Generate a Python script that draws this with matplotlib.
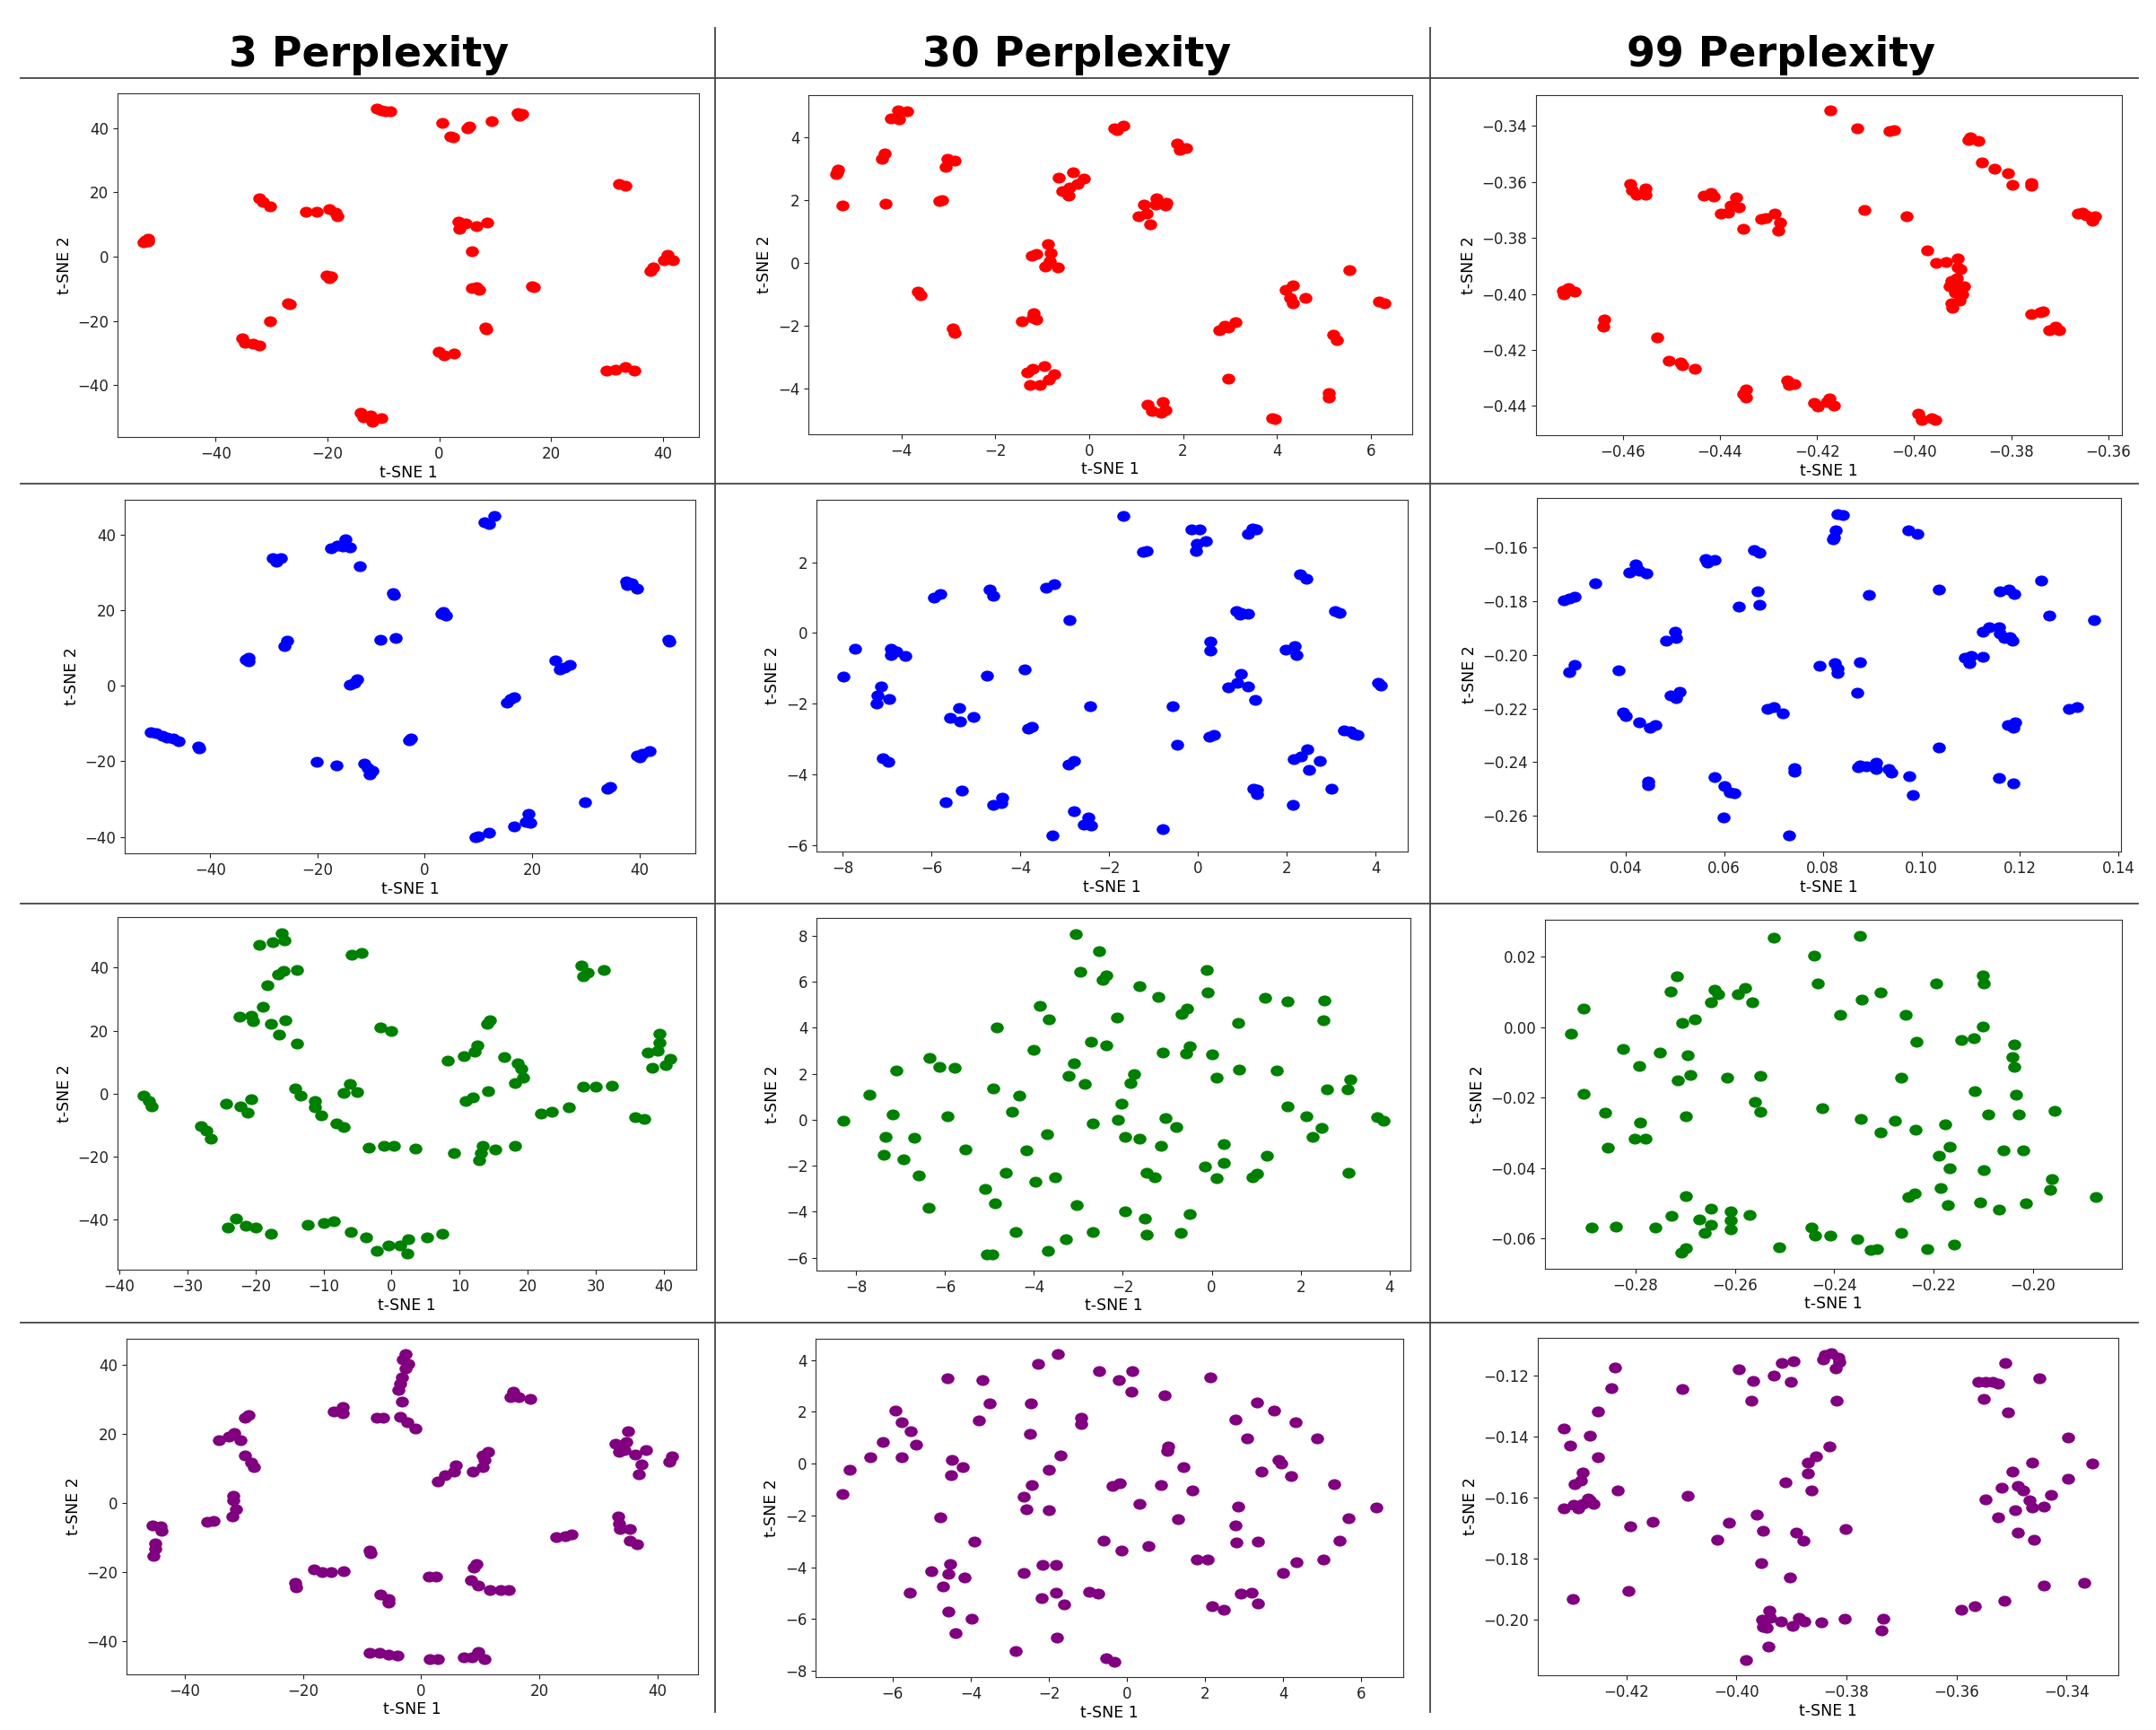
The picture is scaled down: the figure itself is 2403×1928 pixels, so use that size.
import numpy as np
import matplotlib
matplotlib.use("Agg")
import matplotlib.pyplot as plt
from matplotlib.lines import Line2D
from matplotlib.path import Path
from matplotlib.transforms import Affine2D
from matplotlib.ticker import MultipleLocator


# column headers and point colours (one colour per row)
perplexities = ["3 Perplexity", "30 Perplexity", "99 Perplexity"]
row_colors = ["red", "blue", "green", "purple"]

# ---- row 1 (red) ----
red_p3_x = [-52.8, -52.5, -52.1, -52.0, -35.3, -34.8, -33.3, -32.1, -30.3, -27.1, -26.8,
            -32.2, -31.5, -30.3, -23.8, -21.9, -19.7, -18.5, -18.3, -20.1, -19.7, -19.3,
            -11.2, -10.4, -8.8, -9.6, -14.1, -13.5, -12.3, -11.9, -10.4, 0.6, 2.0, 2.4, 5.0,
            5.3, 9.4, 14.0, 14.8, 14.4, 3.4, 4.7, 6.7, 8.6, 3.6, 5.9, 5.9, 6.7, 7.1, 16.6,
            16.9, 8.2, 8.4, -0.1, 0.9, 2.6, 32.2, 33.2, 29.9, 31.5, 33.2, 34.8, 37.7, 38.3,
            40.2, 40.8, 41.7]
red_p3_y = [4.5, 5.0, 5.5, 4.8, -25.3, -26.9, -27.0, -27.7, -20.1, -14.5, -14.8,
            18.1, 17.0, 15.6, 13.9, 13.9, 14.7, 13.7, 12.6, -5.9, -6.8, -6.2,
            45.9, 45.5, 45.3, 45.2, -48.4, -49.8, -49.5, -51.2, -50.2, 41.5, 37.5, 37.1, 39.9,
            40.3, 42.2, 44.5, 44.4, 43.8, 10.9, 10.2, 9.5, 10.5, 8.6, 1.6, -9.8, -9.4, -10.3, -9.1,
            -9.6, -21.9, -22.5, -29.7, -30.6, -30.2, 22.6, 22.1, -35.3, -35.0, -34.4, -35.5, -4.5, -3.3,
            -1.2, 0.5, -1.2]

red_p30_x = [-5.38, -5.35, -5.40, -5.26, -4.41, -4.36, -4.34, -4.23, -4.08, -4.05, -3.89,
             -3.05, -3.03, -2.87, -3.19, -3.13, -3.65, -3.59, -2.91, -2.87, -1.44, -1.19, -1.12, -1.21,
             -1.23, -1.13, -0.88, -0.82, -0.84, -0.93, -0.67, -1.32, -1.21, -0.95, -0.75, -0.86, -1.27, -1.06,
             -0.65, -0.35, -0.12, -0.24, -0.42, -0.58, -0.44, 0.53, 0.59, 0.73, 1.88, 1.94, 2.06,
             1.05, 1.22, 1.17, 1.44, 1.42, 1.65, 1.62, 1.30, 1.25, 1.33, 1.56, 1.62, 1.54,
             2.77, 2.89, 2.97, 3.12, 2.97, 3.91, 3.95, 4.18, 4.35, 4.28, 4.35, 4.60, 5.54,
             5.20, 5.27, 5.11, 5.11, 6.17, 6.30]
red_p30_y = [2.90, 2.97, 2.84, 1.83, 3.31, 3.48, 1.89, 4.60, 4.86, 4.57, 4.83,
             3.05, 3.31, 3.26, 1.98, 2.00, -0.90, -1.03, -2.10, -2.22, -1.86, -1.60, -1.81, -1.73,
             0.24, 0.30, 0.59, 0.31, 0.05, -0.11, -0.14, -3.50, -3.38, -3.29, -3.54, -3.71, -3.89, -3.89,
             2.73, 2.89, 2.70, 2.52, 2.40, 2.29, 2.14, 4.30, 4.24, 4.38, 3.81, 3.60, 3.67,
             1.50, 1.57, 1.86, 2.07, 1.86, 1.92, 1.83, 1.22, -4.52, -4.71, -4.43, -4.69, -4.78,
             -2.14, -2.00, -2.05, -1.89, -3.69, -4.95, -4.97, -0.86, -0.70, -1.10, -1.29, -1.11, -0.24,
             -2.30, -2.46, -4.14, -4.29, -1.22, -1.29]

red_p99_x = [-0.4724, -0.4722, -0.4713, -0.4699, -0.4638, -0.4640, -0.4585, -0.4581, -0.4571,
             -0.4553, -0.4553, -0.4530, -0.4506, -0.4482, -0.4477, -0.4452, -0.4434, -0.4419,
             -0.4413, -0.4399, -0.4384, -0.4377, -0.4366, -0.4361, -0.4352, -0.4315, -0.4306,
             -0.4288, -0.4276, -0.4279, -0.4352, -0.4346, -0.4347, -0.4261, -0.4258, -0.4247,
             -0.4206, -0.4199, -0.4181, -0.4174, -0.4165, -0.4172, -0.4117, -0.4050, -0.4041,
             -0.4103, -0.4016, -0.3974, -0.3954, -0.3934, -0.3911, -0.3911, -0.3904, -0.3924,
             -0.3913, -0.3927, -0.3909, -0.3898, -0.3916, -0.3902, -0.3907, -0.3924, -0.3921,
             -0.3991, -0.3984, -0.3963, -0.3956, -0.3888, -0.3884, -0.3867, -0.3860, -0.3835,
             -0.3806, -0.3797, -0.3758, -0.3758, -0.3758, -0.3740, -0.3735, -0.3721, -0.3709,
             -0.3701, -0.3662, -0.3653, -0.3646, -0.3634, -0.3627]
red_p99_y = [-0.3989, -0.4000, -0.3979, -0.3991, -0.4091, -0.4118, -0.3607, -0.3631, -0.3647,
             -0.3623, -0.3647, -0.4155, -0.4237, -0.4244, -0.4256, -0.4267, -0.3650, -0.3639,
             -0.3654, -0.3712, -0.3709, -0.3685, -0.3656, -0.3692, -0.3767, -0.3733, -0.3731,
             -0.3714, -0.3744, -0.3774, -0.4358, -0.4342, -0.4369, -0.4308, -0.4326, -0.4323,
             -0.4390, -0.4401, -0.4385, -0.4374, -0.4397, -0.3346, -0.3409, -0.3420, -0.3416,
             -0.3701, -0.3724, -0.3846, -0.3889, -0.3886, -0.3874, -0.3904, -0.3912, -0.3955,
             -0.3944, -0.3973, -0.3979, -0.3973, -0.3995, -0.4000, -0.4025, -0.4034, -0.4048,
             -0.4427, -0.4449, -0.4443, -0.4449, -0.3450, -0.3442, -0.3455, -0.3530, -0.3553,
             -0.3569, -0.3610, -0.3605, -0.3615, -0.4073, -0.4066, -0.4062, -0.4130, -0.4118,
             -0.4128, -0.3712, -0.3709, -0.3719, -0.3740, -0.3724]

# ---- row 2 (blue) ----
blue_p3_x = [-51.1, -50.1, -48.9, -48.1, -46.9, -45.9, -42.2, -42.1, -33.4, -32.8, -32.8,
             -26.1, -25.7, -28.4, -27.7, -26.8, -17.5, -16.3, -14.8, -14.0, -15.3, -12.1,
             -6.0, -5.8, -8.2, -5.4, -13.9, -13.1, -12.7, -20.1, -16.5, -11.3, -10.6, -9.7, -10.2,
             -2.9, -2.6, 3.1, 3.9, 3.5, 11.1, 11.9, 13.0, 9.5, 9.9, 11.9, 15.3, 16.0, 16.6,
             16.6, 18.8, 19.4, 19.6, 24.4, 25.1, 26.0, 27.1, 29.9, 34.1, 34.5, 37.5, 38.5, 39.6, 37.7,
             39.5, 40.5, 41.9, 40.1, 45.4, 45.6]
blue_p3_y = [-12.2, -12.5, -13.3, -13.7, -14.0, -14.7, -16.1, -16.6, 7.0, 7.4, 6.5,
             10.4, 11.8, 33.8, 32.8, 33.8, 36.4, 37.0, 38.6, 36.5, 36.8, 31.7,
             24.4, 24.0, 12.1, 12.7, 0.2, 0.7, 1.7, -20.2, -21.0, -20.6, -21.8, -22.6, -23.5,
             -14.5, -13.9, 19.1, 18.6, 19.6, 43.1, 42.8, 44.9, -40.1, -39.8, -38.9, -4.6, -3.6, -3.0,
             -37.2, -36.0, -34.0, -36.4, 6.6, 4.3, 4.7, 5.4, -30.8, -27.3, -26.9, 27.5, 27.1, 25.6, 26.5,
             -18.5, -18.0, -17.2, -18.9, 12.2, 11.6]

blue_p30_x = [-7.99, -7.72, -7.23, -7.13, -7.25, -6.96, -6.92, -6.79, -6.92, -6.59, -7.09, -6.97,
              -5.95, -5.80, -5.58, -5.38, -5.36, -5.06, -5.69, -5.33, -4.75, -4.69, -4.62,
              -4.62, -4.43, -4.42, -3.90, -3.82, -3.74, -3.43, -3.24, -3.28, -2.89, -2.91, -2.80,
              -2.80, -2.58, -2.48, -2.40, -2.43, -1.68, -1.24, -1.16, -0.80, -0.58, -0.46,
              -0.15, 0.04, -0.02, -0.04, 0.18, 0.27, 0.27, 0.25, 0.35, 0.86, 0.94, 0.97, 1.13,
              0.68, 0.88, 0.96, 1.12, 1.28, 1.13, 1.23, 1.30, 1.25, 1.33, 1.32, 1.98, 2.17, 2.22,
              2.15, 2.32, 2.47, 2.51, 2.74, 2.14, 2.30, 2.45, 3.08, 3.18, 3.00, 3.29, 3.44, 3.52, 3.59,
              4.05, 4.12]
blue_p30_y = [-1.22, -0.45, -1.76, -1.52, -1.98, -1.87, -0.44, -0.51, -0.63, -0.66, -3.54, -3.63,
              1.01, 1.10, -2.39, -2.11, -2.49, -2.36, -4.77, -4.46, -1.20, 1.24, 1.05,
              -4.85, -4.81, -4.64, -1.04, -2.70, -2.66, 1.29, 1.37, -5.72, 0.36, -3.71, -3.61,
              -5.02, -5.40, -5.21, -5.43, -2.07, 3.31, 2.30, 2.32, -5.55, -2.06, -3.16,
              2.93, 2.93, 2.53, 2.32, 2.59, -0.24, -0.49, -2.94, -2.87, 0.61, 0.51, 0.57, 0.55,
              -1.54, -1.42, -1.16, -1.52, -1.88, 2.80, 2.95, 2.93, -4.39, -4.54, -4.43, -0.48, -0.38, -0.61,
              -3.57, -3.49, -3.29, -3.86, -3.61, -4.85, 1.66, 1.54, 0.63, 0.57, -4.41, -2.74, -2.77, -2.85, -2.89,
              -1.42, -1.48]

blue_p99_x = [0.0274, 0.0286, 0.0296, 0.0339, 0.0407, 0.0420, 0.0422, 0.0427, 0.0443, 0.0285,
              0.0296, 0.0386, 0.0395, 0.0401, 0.0427, 0.0449, 0.0461, 0.0445, 0.0445, 0.0483,
              0.0500, 0.0503, 0.0492, 0.0503, 0.0509, 0.0562, 0.0566, 0.0580, 0.0580, 0.0600,
              0.0611, 0.0620, 0.0598, 0.0629, 0.0661, 0.0672, 0.0668, 0.0672, 0.0688, 0.0701,
              0.0719, 0.0742, 0.0743, 0.0731, 0.0793, 0.0824, 0.0830, 0.0830, 0.0821, 0.0822,
              0.0827, 0.0829, 0.0840, 0.0875, 0.0870, 0.0872, 0.0876, 0.0888, 0.0908, 0.0908,
              0.0933, 0.0939, 0.0893, 0.0974, 0.0992, 0.0975, 0.0983, 0.1036, 0.1036, 0.1088,
              0.1101, 0.1097, 0.1124, 0.1124, 0.1137, 0.1157, 0.1160, 0.1169, 0.1180, 0.1185,
              0.1160, 0.1178, 0.1189, 0.1158, 0.1176, 0.1187, 0.1191, 0.1187, 0.1242, 0.1260,
              0.1299, 0.1315, 0.1351]
blue_p99_y = [-0.1798, -0.1789, -0.1784, -0.1733, -0.1692, -0.1662, -0.1678, -0.1687, -0.1698, -0.2064,
              -0.2039, -0.2059, -0.2214, -0.2228, -0.2253, -0.2273, -0.2262, -0.2473, -0.2487, -0.1948,
              -0.1914, -0.1939, -0.2153, -0.2162, -0.2139, -0.1642, -0.1657, -0.1648, -0.2456, -0.2490,
              -0.2511, -0.2517, -0.2606, -0.1820, -0.1611, -0.1620, -0.1764, -0.1814, -0.2200, -0.2196,
              -0.2218, -0.2422, -0.2437, -0.2673, -0.2040, -0.2031, -0.2051, -0.2067, -0.1570, -0.1562,
              -0.1537, -0.1476, -0.1481, -0.2029, -0.2140, -0.2420, -0.2411, -0.2414, -0.2403, -0.2426,
              -0.2426, -0.2440, -0.1776, -0.1537, -0.1551, -0.2451, -0.2522, -0.1757, -0.2344, -0.2011,
              -0.2003, -0.2031, -0.2007, -0.1914, -0.1898, -0.1896, -0.1920, -0.1937, -0.1933, -0.1948,
              -0.1764, -0.1756, -0.1773, -0.2459, -0.2262, -0.2270, -0.2251, -0.2478, -0.1722, -0.1853,
              -0.2203, -0.2196, -0.1872]

# ---- row 3 (green) ----
green_p3_x = [-36.4, -35.7, -35.2, -28.0, -27.2, -26.5, -24.3, -22.2, -21.1, -20.6,
              -22.3, -20.6, -20.3, -17.7, -15.6, -16.5, -13.9, -18.9, -18.2, -16.7, -15.9, -13.9,
              -19.4, -17.4, -16.2, -15.7, -5.8, -4.4, -14.2, -13.4, -11.3, -11.3, -10.4, -8.1, -7.1,
              -7.1, -6.1, -5.1, -1.7, -0.1, -3.4, -1.1, 0.4, 3.5, 9.2, 8.3, 10.6, 12.2, 12.6,
              14.1, 14.4, 10.9, 12.0, 14.2, 16.6, 18.5, 19.1, 19.3, 18.1, 13.4, 13.1, 12.9, 15.2, 18.1,
              21.9, 23.6, 26.0, 27.9, 28.1, 28.8, 31.2, 28.2, 30.0, 32.4, 35.8, 37.1,
              37.7, 39.1, 39.4, 39.4, 38.3, 40.3, 40.9,
              -24.0, -22.8, -21.4, -20.0, -17.7, -12.3, -10.0, -8.5, -6.0, -3.7, -2.2, -0.4, 1.2,
              2.4, 2.3, 5.2, 7.4]
green_p3_y = [-0.6, -2.5, -4.2, -10.5, -11.7, -14.3, -3.2, -4.1, -6.2, -1.7,
              24.5, 24.8, 22.9, 22.2, 23.4, 18.8, 16.0, 27.7, 34.3, 37.8, 38.9, 39.2,
              47.3, 48.2, 51.0, 48.7, 44.2, 44.6, 1.5, -0.6, -2.5, -4.4, -6.9, -9.6, -10.7,
              0.2, 3.0, 0.6, 20.9, 20.0, -17.2, -16.7, -16.7, -17.6, -18.8, 10.6, 11.9, 13.2, 15.2,
              22.2, 23.4, -2.5, -1.3, 0.7, 11.6, 9.6, 7.8, 4.9, 3.4, -16.7, -18.8, -21.2, -17.8, -16.7,
              -6.4, -5.8, -4.4, 40.8, 37.3, 38.5, 39.4, 2.1, 2.1, 2.5, -7.5, -8.1,
              13.0, 13.6, 16.3, 19.1, 8.1, 9.1, 11.0,
              -42.7, -39.7, -42.0, -42.7, -44.6, -41.8, -41.3, -40.6, -43.9, -45.7, -50.1, -48.2, -48.2,
              -46.3, -50.9, -45.7, -44.6]

green_p30_x = [-8.28, -7.70, -7.18, -7.10, -7.34, -7.37, -6.93, -6.69, -6.58, -6.35,
               -6.13, -5.78, -6.36, -5.94, -5.53, -5.10, -5.05, -4.93, -4.88, -4.92,
               -4.83, -4.64, -4.49, -4.40, -4.32, -4.16, -3.96, -4.00, -3.86, -3.70,
               -3.67, -3.53, -3.69, -3.27, -3.22, -3.10, -3.06, -3.03, -2.95, -2.86,
               -2.71, -2.68, -2.67, -2.54, -2.46, -2.38, -2.38, -2.12, -2.11, -2.02,
               -1.94, -1.94, -1.82, -1.75, -1.62, -1.62, -1.50, -1.46, -1.46, -1.29,
               -1.21, -1.14, -1.11, -1.05, -0.79, -0.70, -0.68, -0.55, -0.57, -0.49,
               -0.49, -0.15, -0.11, -0.09, 0.00, 0.10, 0.11, 0.27, 0.27, 0.59,
               0.61, 0.92, 1.02, 1.19, 1.24, 1.47, 1.70, 1.70, 2.13, 2.27,
               2.48, 2.51, 2.53, 2.59, 3.05, 3.11, 3.08, 3.72, 3.86]
green_p30_y = [-0.05, 1.10, 0.25, 2.14, -0.75, -1.53, -1.70, -0.79, -2.42, 2.69,
               2.30, 2.26, -3.81, 0.16, -1.29, -2.99, -5.86, -5.86, -3.65, 1.36,
               4.01, -2.32, 0.35, -4.86, 1.06, -1.34, -2.70, 3.06, 4.96, -0.62,
               4.35, -2.49, -5.69, -5.19, 1.90, 2.44, 8.08, -3.70, 6.42, 1.56,
               3.40, -4.86, -0.17, 7.32, 6.10, 6.29, 3.22, 4.43, -0.01, 0.70,
               -0.75, -3.97, 1.58, 1.97, 5.81, -0.83, -4.29, -2.31, -4.99, -2.51,
               5.34, -1.12, 2.92, 0.06, -0.30, -4.90, 4.60, 4.83, 2.88, 3.18,
               -4.10, -2.03, 6.51, 5.53, 2.84, -2.55, 1.82, -1.05, -1.87, 4.22,
               2.18, -2.51, -2.35, 5.30, -1.58, 2.14, 5.13, 0.57, 0.16, -0.75,
               -0.34, 4.34, 5.17, 1.32, 1.32, 1.74, -2.29, 0.12, -0.05]

green_p99_x = [-0.2929, -0.2905, -0.2905, -0.2888, -0.2860, -0.2856, -0.2839, -0.2825, -0.2802, -0.2792,
               -0.2790, -0.2779, -0.2759, -0.2750, -0.2729, -0.2727, -0.2717, -0.2715, -0.2706, -0.2707,
               -0.2699, -0.2699, -0.2699, -0.2694, -0.2689, -0.2680, -0.2671, -0.2661, -0.2648, -0.2648,
               -0.2648, -0.2640, -0.2634, -0.2616, -0.2609, -0.2609, -0.2609, -0.2593, -0.2579, -0.2570,
               -0.2564, -0.2560, -0.2548, -0.2548, -0.2521, -0.2510, -0.2445, -0.2440, -0.2438, -0.2433,
               -0.2424, -0.2408, -0.2388, -0.2354, -0.2349, -0.2346, -0.2345, -0.2326, -0.2314, -0.2307,
               -0.2307, -0.2277, -0.2265, -0.2265, -0.2256, -0.2251, -0.2239, -0.2236, -0.2234, -0.2212,
               -0.2194, -0.2190, -0.2185, -0.2177, -0.2171, -0.2167, -0.2167, -0.2159, -0.2144, -0.2119,
               -0.2117, -0.2107, -0.2101, -0.2099, -0.2101, -0.2099, -0.2091, -0.2069, -0.2059, -0.2042,
               -0.2037, -0.2037, -0.2035, -0.2028, -0.2019, -0.2014, -0.1966, -0.1962, -0.1957, -0.1874]
green_p99_y = [-0.0019, 0.0052, -0.0188, -0.0568, -0.0243, -0.0341, -0.0566, -0.0061, -0.0316, -0.0109,
               -0.0270, -0.0316, -0.0568, -0.0072, 0.0102, -0.0536, 0.0145, -0.0150, 0.0011, -0.0641,
               -0.0627, -0.0252, -0.0479, -0.0080, -0.0135, 0.0022, -0.0545, -0.0585, 0.0070, -0.0515,
               -0.0560, 0.0107, 0.0094, -0.0144, -0.0523, -0.0549, -0.0574, 0.0094, 0.0111, -0.0534,
               0.0070, -0.0211, -0.0239, -0.0139, 0.0255, -0.0624, -0.0568, 0.0204, -0.0591, 0.0124,
               -0.0231, -0.0591, 0.0036, -0.0602, 0.0260, -0.0260, 0.0078, -0.0632, -0.0629, -0.0300,
               0.0098, -0.0265, -0.0144, -0.0585, 0.0036, -0.0481, -0.0471, -0.0290, -0.0042, -0.0629,
               0.0125, -0.0366, -0.0457, -0.0276, -0.0506, -0.0339, -0.0401, -0.0617, -0.0036, -0.0031,
               -0.0182, -0.0498, 0.0147, 0.0124, 0.0003, -0.0406, -0.0249, -0.0519, -0.0351, -0.0085,
               -0.0048, -0.0112, -0.0193, -0.0249, -0.0349, -0.0501, -0.0461, -0.0432, -0.0238, -0.0481]

# ---- row 4 (purple) ----
purple_p3_x = [-45.5, -44.2, -43.9, -45.0, -45.0, -45.3, -36.2, -35.1, -32.0, -31.4, -31.8, -31.8,
               -34.2, -32.6, -31.6, -30.6, -29.8, -28.8, -28.3, -29.9, -29.2, -21.4, -21.2,
               -18.1, -16.8, -15.2, -13.2, -14.8, -13.3, -13.3, -8.7, -8.5, -8.7, -7.1, -5.6, -4.0,
               -7.5, -6.4, -6.9, -5.6, -5.6, -2.6, -3.1, -2.2, -2.7, -3.2, -3.6, -3.8, -3.2,
               -3.6, -2.3, -0.9, 1.3, 2.6, 1.5, 2.8, 2.8, 4.0, 5.6, 5.9, 8.8, 10.5, 10.8, 10.5, 11.4,
               8.5, 8.9, 9.4, 9.7, 11.6, 13.4, 14.9, 7.2, 8.6, 9.7, 10.7, 15.1, 15.6, 16.5, 18.5,
               22.9, 24.4, 25.5, 32.9, 33.5, 34.8, 35.1, 34.4, 36.2, 38.1, 37.4, 36.8,
               33.3, 33.5, 33.7, 35.4, 35.4, 36.5, 42.1, 42.5]
purple_p3_y = [-6.5, -6.7, -8.2, -11.7, -13.2, -15.4, -5.6, -5.1, -3.9, -1.9, 0.7, 2.0,
               18.3, 19.2, 20.4, 18.2, 13.7, 11.7, 10.5, 24.7, 25.4, -23.2, -24.5,
               -19.3, -20.1, -20.0, -19.8, 26.6, 27.9, 26.1, -13.8, -14.5, -43.4, -43.6, -44.0, -44.3,
               24.6, 24.6, -26.5, -27.9, -28.8, 43.2, 41.6, 40.4, 39.1, 36.5, 34.5, 32.8, 29.3,
               25.0, 23.3, 21.7, -21.4, -21.4, -45.3, -45.3, 6.3, 8.1, 9.1, 10.8, 9.2, 10.5, 12.6, 13.9, 14.8,
               -22.3, -18.8, -17.8, -23.9, -25.2, -25.3, -25.3, -44.7, -44.7, -43.3, -45.3, 30.6, 32.2, 30.6, 30.2,
               -10.0, -9.7, -9.0, 17.2, 14.8, 17.6, 20.7, 15.4, 14.1, 15.4, 11.1, 8.2,
               -3.9, -6.0, -7.5, -7.5, -11.0, -12.1, 12.0, 13.4]

purple_p30_x = [-7.29, -7.11, -6.58, -6.26, -5.92, -5.77, -5.77, -5.53, -5.40, -5.56,
                -5.02, -4.77, -4.71, -4.59, -4.58, -4.58, -4.52, -4.51, -4.49, -4.40,
                -4.21, -4.16, -3.98, -3.91, -3.79, -3.70, -3.52, -2.84, -2.64, -2.64,
                -2.58, -2.49, -2.46, -2.43, -2.27, -2.18, -2.16, -2.00, -1.99, -1.81,
                -1.81, -1.79, -1.76, -1.70, -1.60, -1.18, -1.18, -0.96, -0.74, -0.72,
                -0.60, -0.52, -0.38, -0.32, -0.22, -0.19, -0.13, 0.12, 0.14, 0.33,
                0.56, 0.86, 0.97, 1.03, 1.06, 1.31, 1.44, 1.67, 1.80, 2.06,
                2.13, 2.19, 2.47, 2.77, 2.78, 2.80, 2.84, 2.91, 3.08, 3.19,
                3.32, 3.35, 3.35, 3.44, 3.77, 3.88, 3.96, 3.99, 4.21, 4.32,
                4.35, 4.87, 5.04, 5.30, 5.45, 5.67, 6.39]
purple_p30_y = [-1.17, -0.22, 0.26, 0.83, 2.04, 1.61, 0.26, 1.26, 0.73, -4.97,
                -4.16, -2.07, -4.76, 3.30, -4.27, -5.73, -3.87, -0.44, 0.13, -6.56,
                -0.12, -4.40, -5.99, -3.02, 1.68, 3.24, 2.33, -7.23, -1.29, -4.23,
                -1.76, 1.15, 2.33, -0.83, 3.87, -5.18, -3.90, -0.25, -1.81, -3.90,
                -5.00, -6.72, 4.23, 0.33, -5.42, 1.53, 1.77, -4.94, -5.03, 3.56,
                -2.98, -7.51, -0.85, -7.65, 3.24, -0.76, -3.36, 2.77, 3.56, -1.57,
                -3.19, -0.83, 2.64, 0.50, 0.67, -2.14, -0.13, -1.04, -3.71, -3.71,
                3.35, -5.49, -5.63, 1.70, -2.38, -3.05, -1.65, -5.01, 0.97, -4.97,
                2.38, -3.02, -5.39, -0.31, 2.06, 0.15, 0.01, -4.23, -0.47, 1.60,
                -3.79, 0.97, -3.70, -0.79, -2.96, -2.10, -1.68]

purple_p99_x = [-0.4313, -0.4313, -0.4303, -0.4298, -0.4294, -0.4295, -0.4288, -0.4280, -0.4282, -0.4280,
                -0.4270, -0.4267, -0.4260, -0.4267, -0.4252, -0.4251, -0.4227, -0.4220, -0.4216, -0.4197,
                -0.4193, -0.4152, -0.4099, -0.4089, -0.4035, -0.4014, -0.3995, -0.3982, -0.3973, -0.3969,
                -0.3963, -0.3954, -0.3952, -0.3946, -0.3940, -0.3938, -0.3952, -0.3955, -0.3942, -0.3932,
                -0.3919, -0.3918, -0.3911, -0.3903, -0.3901, -0.3898, -0.3896, -0.3892, -0.3886, -0.3879,
                -0.3876, -0.3871, -0.3871, -0.3863, -0.3856, -0.3845, -0.3842, -0.3839, -0.3831, -0.3828,
                -0.3815, -0.3813, -0.3820, -0.3818, -0.3803, -0.3801, -0.3737, -0.3733, -0.3592, -0.3567,
                -0.3560, -0.3551, -0.3547, -0.3535, -0.3525, -0.3547, -0.3525, -0.3518, -0.3513, -0.3511,
                -0.3507, -0.3498, -0.3494, -0.3489, -0.3488, -0.3479, -0.3468, -0.3462, -0.3462, -0.3460,
                -0.3449, -0.3442, -0.3442, -0.3428, -0.3398, -0.3398, -0.3368, -0.3354]
purple_p99_y = [-0.1636, -0.1374, -0.1428, -0.1931, -0.1556, -0.1623, -0.1636, -0.1620, -0.1543, -0.1516,
                -0.1602, -0.1607, -0.1621, -0.1397, -0.1316, -0.1468, -0.1241, -0.1172, -0.1576, -0.1905,
                -0.1693, -0.1680, -0.1243, -0.1595, -0.1737, -0.1682, -0.1180, -0.2132, -0.1282, -0.1216,
                -0.1656, -0.2000, -0.2022, -0.2027, -0.1971, -0.1995, -0.1709, -0.1814, -0.2087, -0.1199,
                -0.2007, -0.1158, -0.1550, -0.1861, -0.1219, -0.2020, -0.1151, -0.1714, -0.1993, -0.1742,
                -0.2005, -0.1485, -0.1521, -0.1576, -0.1465, -0.2010, -0.1146, -0.1131, -0.1431, -0.1126,
                -0.1140, -0.1155, -0.1177, -0.1282, -0.1998, -0.1703, -0.2035, -0.1998, -0.1968, -0.1957,
                -0.1221, -0.1276, -0.1221, -0.1221, -0.1227, -0.1605, -0.1663, -0.1568, -0.1939, -0.1158,
                -0.1319, -0.1515, -0.1640, -0.1560, -0.1714, -0.1575, -0.1609, -0.1485, -0.1631, -0.1739,
                -0.1207, -0.1628, -0.1888, -0.1592, -0.1401, -0.1538, -0.1880, -0.1488]

panels = [
    [(red_p3_x, red_p3_y), (red_p30_x, red_p30_y), (red_p99_x, red_p99_y)],
    [(blue_p3_x, blue_p3_y), (blue_p30_x, blue_p30_y), (blue_p99_x, blue_p99_y)],
    [(green_p3_x, green_p3_y), (green_p30_x, green_p30_y), (green_p99_x, green_p99_y)],
    [(purple_p3_x, purple_p3_y), (purple_p30_x, purple_p30_y), (purple_p99_x, purple_p99_y)],
]

# tick spacing (x, y) per panel
tick_steps = [
    [(20, 20), (2, 2), (0.02, 0.02)],
    [(20, 20), (2, 2), (0.02, 0.02)],
    [(10, 20), (2, 2), (0.02, 0.02)],
    [(20, 20), (2, 2), (0.02, 0.02)],
]

W, H = 2403, 1928

# axes boxes in pixels: left, right, top, bottom
boxes = [
    [(131, 779, 104, 487), (901, 1574, 106, 484), (1712, 2365, 106, 485)],
    [(139, 775, 557, 951), (910, 1569, 557, 949), (1713, 2364, 555, 949)],
    [(131, 776, 1022, 1415), (910, 1572, 1023, 1416), (1722, 2365, 1025, 1414)],
    [(141, 778, 1492, 1866), (909, 1564, 1492, 1869), (1714, 2361, 1491, 1867)],
]


def px_rect(l, r, t, b):
    return [l / W, 1 - b / H, (r - l) / W, (b - t) / H]


def main():
    fig = plt.figure(figsize=(W / 100, H / 100), dpi=100)

    # dots a little wider than tall, the source picture is stretched sideways
    dot = Path.unit_circle().transformed(Affine2D().scale(1.2, 1.0))

    for i in range(4):
        for j in range(3):
            ax = fig.add_axes(px_rect(*boxes[i][j]))
            xs, ys = panels[i][j]
            ax.scatter(xs, ys, color=row_colors[i], marker=dot, s=110, linewidths=0)
            ax.xaxis.set_major_locator(MultipleLocator(tick_steps[i][j][0]))
            ax.yaxis.set_major_locator(MultipleLocator(tick_steps[i][j][1]))
            ax.tick_params(labelsize=12, colors="#222222")
            ax.set_xlabel("t-SNE 1", fontsize=12.5, labelpad=2)
            ax.set_ylabel("t-SNE 2", fontsize=12.5, labelpad=4)
            for sp in ax.spines.values():
                sp.set_color("#333333")

    # column headers
    for j, name in enumerate(perplexities):
        cx = [411, 1200, 1985][j]
        fig.text(cx / W, 1 - 61 / H, name, ha="center", va="center",
                 fontsize=33, fontweight="bold", family="DejaVu Sans")

    # separator lines of the grid
    for y in [87, 539, 1007, 1474]:
        fig.add_artist(Line2D([23 / W, 2383 / W], [1 - y / H, 1 - y / H],
                              transform=fig.transFigure, color="#444444", lw=1.3))
    for x in [797, 1594]:
        fig.add_artist(Line2D([x / W, x / W], [1 - 31 / H, 1 - 1908 / H],
                              transform=fig.transFigure, color="#444444", lw=1.3))

    fig.savefig("out.png", dpi=100, facecolor="white")


if __name__ == "__main__":
    main()
